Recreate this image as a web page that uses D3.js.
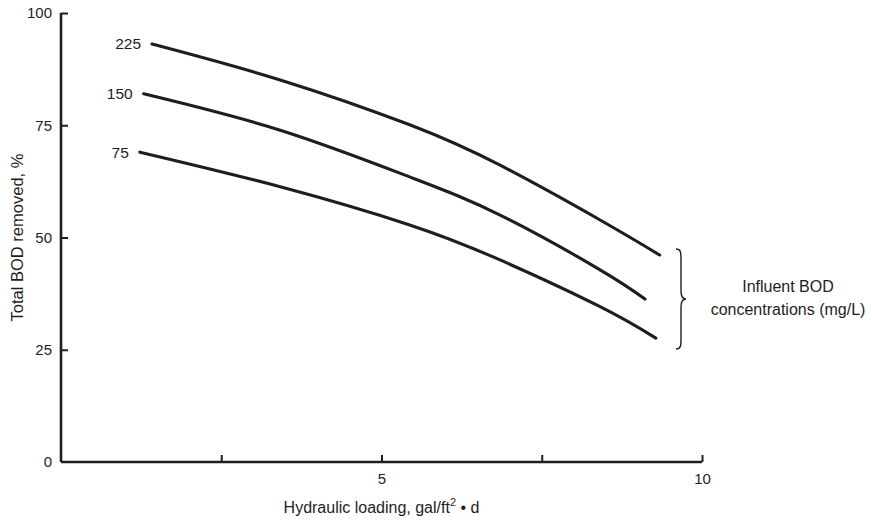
<!DOCTYPE html>
<html>
<head>
<meta charset="utf-8">
<script src="https://cdn.jsdelivr.net/npm/d3@7"></script>
<style>
  html, body { margin: 0; padding: 0; background: #fff; }
  svg { display: block; font-family: "Liberation Sans", Arial, Helvetica, sans-serif; }
</style>
</head>
<body>
<svg id="chart" width="872" height="520"></svg>
<script>
// Hydraulic loading (gal/ft²·d) vs. total BOD removal (%) for three influent BOD concentrations
const loading225 = [1.42, 3.42, 5.44, 6.85, 8.41, 9.34];
const removal225 = [93.1, 85.1, 75.1, 66.1, 53.9, 46.1];

const loading150 = [1.29, 3.42, 5.44, 6.85, 8.41, 9.11];
const removal150 = [82.0, 73.9, 63.5, 55.0, 42.8, 36.3];

const loading75 = [1.23, 3.42, 5.44, 6.85, 8.41, 9.28];
const removal75 = [69.0, 61.3, 52.8, 45.0, 34.6, 27.6];

const seriesLabels = ["225", "150", "75"];
const xTicks = [2.5, 5, 7.5, 10];
const xTickLabels = ["", "5", "", "10"];
const yTicks = [0, 25, 50, 75, 100];

const ink = "#1e1e1e";
const svg = d3.select("#chart");

const x = d3.scaleLinear().domain([0, 10]).range([61, 702]);
const y = d3.scaleLinear().domain([0, 100]).range([462, 13]);

// y axis, ticks pointing into the plot
const yAxis = svg.append("g")
  .attr("transform", `translate(${x(0)},0)`)
  .call(d3.axisLeft(y).tickValues(yTicks).tickSizeInner(-7).tickSizeOuter(0).tickPadding(9));

// x axis, ticks pointing up
const xAxis = svg.append("g")
  .attr("transform", `translate(0,${y(0)})`)
  .call(d3.axisBottom(x).tickValues(xTicks).tickFormat((d, i) => xTickLabels[i])
        .tickSizeInner(-7).tickSizeOuter(0).tickPadding(11));

[yAxis, xAxis].forEach(g => {
  g.select(".domain").attr("stroke", ink).attr("stroke-width", 2.6);
  g.selectAll(".tick line").attr("stroke", ink).attr("stroke-width", 2);
  g.selectAll(".tick text").attr("fill", ink).attr("font-size", 15)
    .attr("font-family", "'Liberation Sans', Arial, sans-serif");
});
yAxis.select(".domain").attr("d", `M0,${y(0)}V${y(100)}`);
xAxis.select(".domain").attr("d", `M${x(0)},0H${x(10)}`);
yAxis.selectAll(".tick").filter(d => d === 0).select("line").remove();

// curves
const series = [
  { xs: loading225, ys: removal225, label: seriesLabels[0] },
  { xs: loading150, ys: removal150, label: seriesLabels[1] },
  { xs: loading75, ys: removal75, label: seriesLabels[2] }
];
const line = d3.line().x(d => x(d[0])).y(d => y(d[1])).curve(d3.curveNatural);

series.forEach(s => {
  const pts = s.xs.map((v, i) => [v, s.ys[i]]);
  svg.append("path")
    .attr("d", line(pts))
    .attr("fill", "none")
    .attr("stroke", ink)
    .attr("stroke-width", 3.1)
    .attr("stroke-linecap", "round");
  svg.append("text")
    .attr("x", x(pts[0][0]) - 11)
    .attr("y", y(pts[0][1]))
    .attr("dy", "0.35em")
    .attr("text-anchor", "end")
    .attr("font-size", 15.5)
    .attr("fill", ink)
    .text(s.label);
});

// curly brace grouping the curve ends
const bTop = 249, bBot = 349, bMid = (bTop + bBot) / 2, bx = 679, bw = 7;
svg.append("path")
  .attr("d", `M${bx - 3},${bTop} C${bx + 2},${bTop} ${bx + 2},${bTop + 4} ${bx + 2},${bTop + 10}
              L${bx + 2},${bMid - 8} C${bx + 2},${bMid - 2} ${bx + 4},${bMid} ${bx + bw},${bMid}
              C${bx + 4},${bMid} ${bx + 2},${bMid + 2} ${bx + 2},${bMid + 8}
              L${bx + 2},${bBot - 10} C${bx + 2},${bBot - 4} ${bx + 2},${bBot} ${bx - 3},${bBot}`)
  .attr("fill", "none")
  .attr("stroke", ink)
  .attr("stroke-width", 1.4);

const legend = svg.append("text")
  .attr("text-anchor", "middle")
  .attr("font-size", 16)
  .attr("fill", ink);
legend.append("tspan").attr("x", 788).attr("y", 292).text("Influent BOD");
legend.append("tspan").attr("x", 788).attr("y", 315).text("concentrations (mg/L)");

// axis titles
svg.append("text")
  .attr("transform", `translate(23,${y(50)}) rotate(-90)`)
  .attr("text-anchor", "middle")
  .attr("font-size", 16.5)
  .attr("fill", ink)
  .text("Total BOD removed, %");

const xt = svg.append("text")
  .attr("x", x(5))
  .attr("y", 513)
  .attr("text-anchor", "middle")
  .attr("font-size", 16)
  .attr("fill", ink);
xt.append("tspan").text("Hydraulic loading, gal/ft");
xt.append("tspan").attr("dy", -7).attr("font-size", 11).text("2");
xt.append("tspan").attr("dy", 7).text(" \u2022 d");
</script>
</body>
</html>
